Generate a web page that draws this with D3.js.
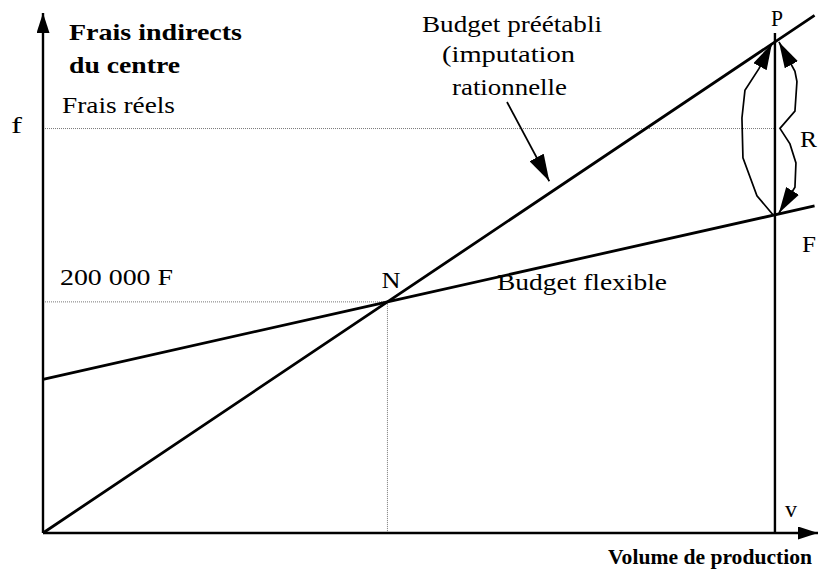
<!DOCTYPE html>
<html>
<head>
<meta charset="utf-8">
<script src="https://cdn.jsdelivr.net/npm/d3@7"></script>
<style>
  body { margin: 0; background: #fff; }
  text { font-family: "Liberation Serif", "Times New Roman", Times, serif; fill: #000; }
</style>
</head>
<body>
<div id="chart"></div>
<script>
// volumes (units) and costs (F)
var normalVolume = 100;
var actualVolume = 212.5;
var lineEndVolume = 224;
var fraisReels = 350000;

// [volume, cost]
var budgetPreetabli = [[0, 0], [normalVolume, 200000], [lineEndVolume, 448000]];
var budgetFlexible = [[0, 133000], [normalVolume, 200000], [lineEndVolume, 283080]];
var pointP = [actualVolume, 425000];
var pointF = [actualVolume, 275375];
var pointN = [normalVolume, 200000];

var W = 821, H = 576;
var svg = d3.select("#chart").append("svg")
  .attr("width", W).attr("height", H);

var x = d3.scaleLinear().domain([0, 225]).range([43, 818]);
var y = d3.scaleLinear().domain([0, 450000]).range([533, 13]);

// arrow markers
var defs = svg.append("defs");
function marker(id, len, wid) {
  defs.append("marker")
    .attr("id", id)
    .attr("markerUnits", "userSpaceOnUse")
    .attr("viewBox", [0, -wid / 2, len, wid].join(" "))
    .attr("refX", len).attr("refY", 0)
    .attr("markerWidth", len).attr("markerHeight", wid)
    .attr("orient", "auto-start-reverse")
    .append("path")
    .attr("d", "M0," + (-wid / 2) + "L" + len + ",0L0," + (wid / 2) + "Z")
    .attr("fill", "#000");
}
marker("axisArrow", 20, 13);
marker("bigArrow", 26, 15);
marker("callArrow", 27, 16);

// dotted guide lines
var dotted = svg.append("g")
  .attr("stroke", "#777").attr("stroke-width", 1)
  .attr("stroke-dasharray", "1,1").attr("fill", "none");
dotted.append("line")
  .attr("x1", x(0)).attr("x2", x(actualVolume))
  .attr("y1", y(fraisReels)).attr("y2", y(fraisReels));
dotted.append("line")
  .attr("x1", x(0)).attr("x2", x(pointN[0]))
  .attr("y1", y(pointN[1])).attr("y2", y(pointN[1]));
dotted.append("line")
  .attr("x1", x(pointN[0])).attr("x2", x(pointN[0]))
  .attr("y1", y(pointN[1])).attr("y2", y(0));

// axes
svg.append("line")
  .attr("x1", x(0)).attr("y1", y(0))
  .attr("x2", x(0)).attr("y2", y.range()[1])
  .attr("stroke", "#000").attr("stroke-width", 2.4)
  .attr("marker-end", "url(#axisArrow)");
svg.append("line")
  .attr("x1", x(0)).attr("y1", y(0))
  .attr("x2", x.range()[1]).attr("y2", y(0))
  .attr("stroke", "#000").attr("stroke-width", 2.4)
  .attr("marker-end", "url(#axisArrow)");

// vertical line at actual volume
svg.append("line")
  .attr("x1", x(actualVolume)).attr("x2", x(actualVolume))
  .attr("y1", y(0)).attr("y2", y(pointP[1]) - 9)
  .attr("stroke", "#000").attr("stroke-width", 2.4);

// budget lines
var line = d3.line().x(function(d) { return x(d[0]); }).y(function(d) { return y(d[1]); });
svg.append("path").datum(budgetPreetabli)
  .attr("d", line).attr("fill", "none")
  .attr("stroke", "#000").attr("stroke-width", 2.8);
svg.append("path").datum(budgetFlexible)
  .attr("d", line).attr("fill", "none")
  .attr("stroke", "#000").attr("stroke-width", 2.8);

// curved arrows between P and F  ([dx, t] with t from P to F)
var xv = x(actualVolume), yP = y(pointP[1]), yF = y(pointF[1]);
var leftArc = [[-2, 1.0], [-18, 0.89], [-32, 0.67], [-33, 0.44], [-30, 0.28], [-16, 0.155], [-3, 0.01]];
var rightArc = [[4, 0.0], [20, 0.17], [22, 0.23], [20, 0.40], [5, 0.50], [15, 0.59], [21, 0.70], [20, 0.84], [4, 0.99]];
var arcLine = d3.line()
  .x(function(d) { return xv + d[0]; })
  .y(function(d) { return yP + d[1] * (yF - yP); });
svg.append("path").datum(leftArc)
  .attr("d", arcLine).attr("fill", "none")
  .attr("stroke", "#000").attr("stroke-width", 1.7)
  .attr("marker-end", "url(#bigArrow)");
svg.append("path").datum(rightArc)
  .attr("d", arcLine).attr("fill", "none")
  .attr("stroke", "#000").attr("stroke-width", 1.7)
  .attr("marker-start", "url(#bigArrow)")
  .attr("marker-end", "url(#bigArrow)");

// callout arrow to budget préétabli
svg.append("line")
  .attr("x1", 507).attr("y1", 102)
  .attr("x2", x(147)).attr("y2", y(147 * 2000) - 12)
  .attr("stroke", "#000").attr("stroke-width", 1.7)
  .attr("marker-end", "url(#callArrow)");

// texts
function label(t, px, py, len, bold, size) {
  var el = svg.append("text")
    .attr("x", px).attr("y", py)
    .attr("font-size", size || 24)
    .attr("font-weight", bold ? "bold" : "normal")
    .text(t);
  if (len) el.attr("textLength", len).attr("lengthAdjust", "spacingAndGlyphs");
  return el;
}
label("Frais indirects", 69, 40, 173, true);
label("du centre", 69, 73, 111, true);
label("Frais réels", 62, 113, 113);
label("f", 11, 133, 11);
label("200 000 F", 60, 285, 113);
label("N", x(pointN[0]) - 6, y(pointN[1]) - 14, 19);
label("Budget flexible", 497, 290, 170);
label("Budget préétabli", 422, 32, 180);
label("(imputation", 442, 62, 133);
label("rationnelle", 452, 95, 115);
label("P", xv - 4, 26, 12);
label("R", 800, 147, 17);
label("F", 802, 252, 14);
label("v", 785, 517, 12);
label("Volume de production", 608, 564, 204, true, 21);
</script>
</body>
</html>
